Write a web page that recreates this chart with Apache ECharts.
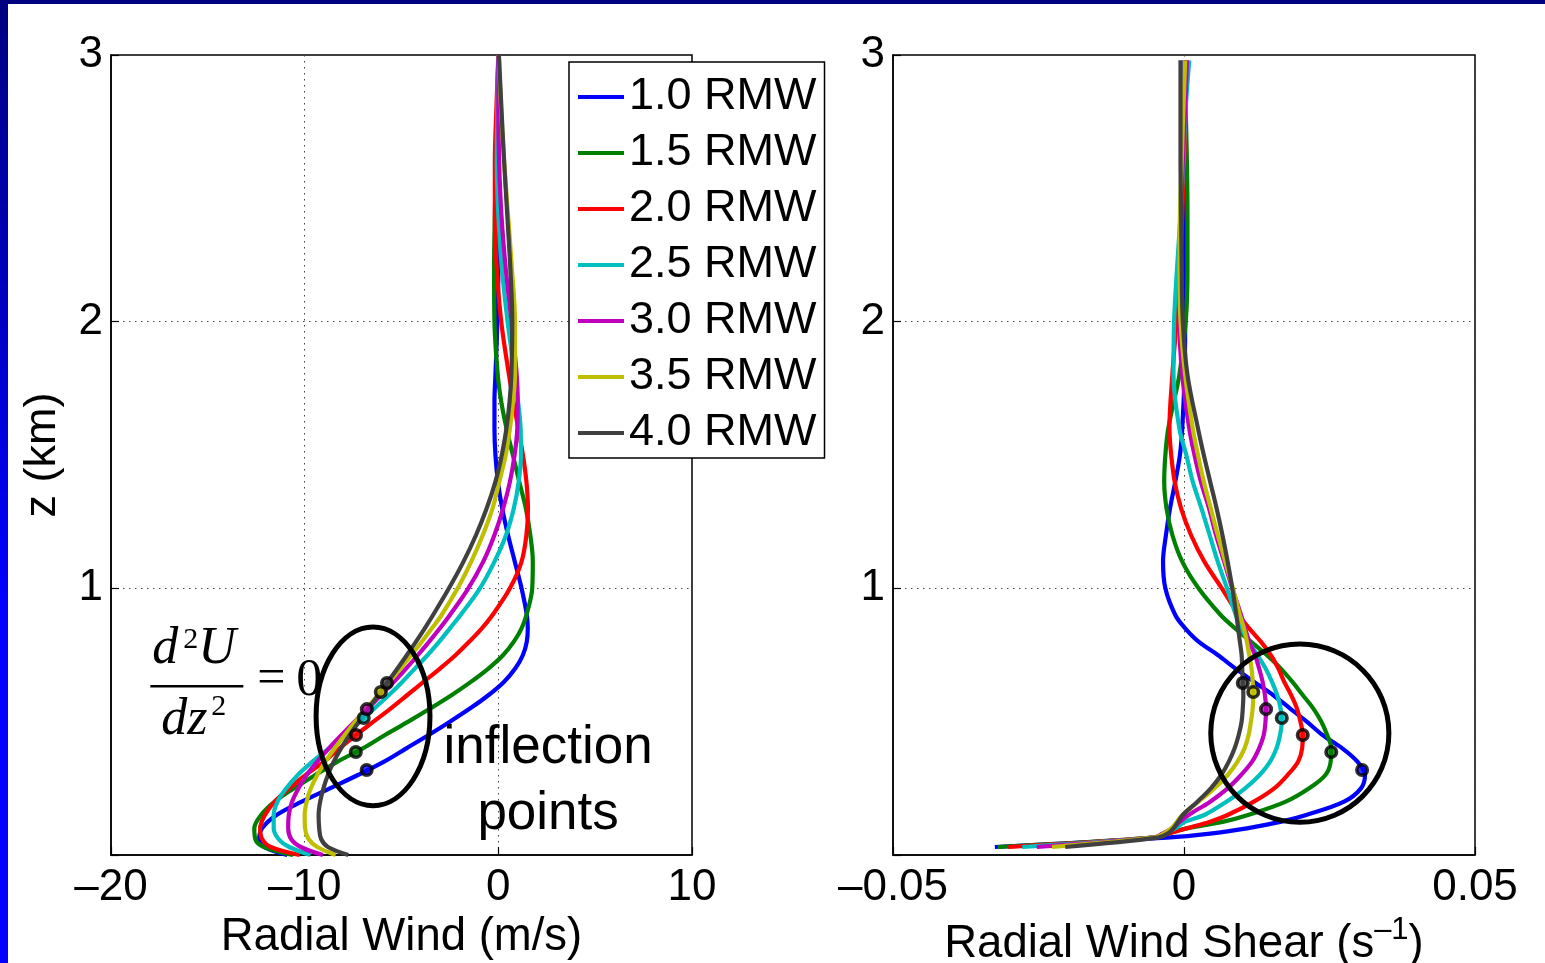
<!DOCTYPE html>
<html>
<head>
<meta charset="utf-8">
<script src="https://cdn.jsdelivr.net/npm/echarts@6/dist/echarts.min.js"></script>
<style>
  html, body { margin: 0; padding: 0; background: #fff; }
  #wrap { position: relative; width: 1545px; height: 963px; overflow: hidden; background: #fff; }
  #chart { position: absolute; left: 0; top: 0; width: 1545px; height: 963px; }
  #topbar { position: absolute; left: 0; top: 0; width: 1545px; height: 4px; background: #000080; z-index: 2; }
  #sidebar { position: absolute; left: 0; top: 0; width: 8px; height: 963px;
             background: linear-gradient(#000080, #0000ff 62%, #0000ff); z-index: 2; }
</style>
</head>
<body>
<div id="wrap">
  <div id="chart"></div>
  <div id="topbar"></div>
  <div id="sidebar"></div>
</div>
<script>
// Radial-wind profiles at several radii (multiples of the radius of maximum wind)
const seriesNames = ['1.0 RMW', '1.5 RMW', '2.0 RMW', '2.5 RMW', '3.0 RMW', '3.5 RMW', '4.0 RMW'];
const seriesColors = ['#0000ff', '#008000', '#ff0000', '#00bfbf', '#bf00bf', '#bfbf00', '#404040'];

// Height levels (km) of the radial wind profiles
const windZ = [0, 0.03, 0.06, 0.1, 0.15, 0.2, 0.25, 0.3, 0.35, 0.4, 0.45, 0.5, 0.55, 0.6, 0.65, 0.7,
  0.75, 0.8, 0.85, 0.9, 1.0, 1.1, 1.2, 1.3, 1.4, 1.5, 1.6, 1.7, 1.8, 2.0, 2.2, 2.4, 2.6, 2.8, 3.0];

// Radial wind U (m/s)
const windRmw10 = [-10.9, -12.1, -12.35, -12.2, -11.45, -10.15, -8.7, -7.25, -5.9, -4.75, -3.6, -2.5, -1.45,
  -0.5, 0.3, 0.88, 1.27, 1.47, 1.52, 1.47, 1.2, 0.85, 0.5, 0.2, -0.02, -0.15, -0.2, -0.2, -0.15, -0.05,
  0, 0, 0, 0, 0];
const windRmw15 = [-10.6, -12.1, -12.55, -12.6, -12.25, -11.55, -10.55, -9.45, -8.3, -7.0, -5.85, -4.65, -3.5,
  -2.4, -1.4, -0.5, 0.25, 0.8, 1.2, 1.45, 1.75, 1.78, 1.65, 1.42, 1.08, 0.75, 0.42, 0.15, -0.03, -0.2,
  -0.22, -0.18, -0.12, -0.06, 0];
const windRmw20 = [-10.25, -11.75, -12.2, -12.3, -12.05, -11.55, -10.8, -9.95, -9.0, -8.2, -7.35, -6.45, -5.55,
  -4.7, -3.85, -3.0, -2.2, -1.5, -0.85, -0.3, 0.6, 1.2, 1.45, 1.53, 1.45, 1.27, 1.03, 0.78, 0.55, 0.15,
  -0.08, -0.18, -0.18, -0.1, 0];
const windRmw25 = [-9.7, -10.8, -11.35, -11.6, -11.6, -11.4, -10.95, -10.35, -9.6, -8.75, -7.9, -7.15, -6.4,
  -5.65, -4.95, -4.3, -3.65, -3.05, -2.5, -1.95, -0.95, -0.2, 0.4, 0.8, 1.05, 1.17, 1.15, 1.02, 0.85,
  0.48, 0.18, 0.0, -0.08, -0.05, 0];
const windRmw30 = [-9.06, -10.2, -10.7, -10.85, -10.82, -10.65, -10.32, -9.9, -9.35, -8.75, -8.1, -7.42, -6.73,
  -6.05, -5.38, -4.75, -4.15, -3.57, -3.02, -2.5, -1.55, -0.78, -0.2, 0.25, 0.6, 0.84, 0.98, 1.0, 0.95,
  0.68, 0.38, 0.16, 0.04, 0.0, 0];
const windRmw35 = [-8.4, -9.35, -9.8, -9.98, -10.0, -9.9, -9.68, -9.35, -8.93, -8.45, -7.93, -7.38, -6.8,
  -6.2, -5.62, -5.05, -4.5, -3.95, -3.43, -2.93, -2.1, -1.4, -0.8, -0.3, 0.05, 0.38, 0.6, 0.76, 0.86,
  0.86, 0.7, 0.5, 0.3, 0.14, 0.02];
const windRmw40 = [-7.75, -8.8, -9.15, -9.25, -9.28, -9.2, -9.03, -8.8, -8.5, -8.12, -7.68, -7.2, -6.7,
  -6.2, -5.7, -5.2, -4.72, -4.25, -3.8, -3.37, -2.55, -1.8, -1.15, -0.6, -0.15, 0.18, 0.42, 0.58, 0.67,
  0.72, 0.62, 0.46, 0.3, 0.16, 0.03];

// Height levels (km) of the vertical shear profiles
const shearZ = [0.03, 0.065, 0.08, 0.1, 0.125, 0.15, 0.2, 0.25, 0.3, 0.35, 0.4, 0.45, 0.5, 0.55, 0.6, 0.65,
  0.7, 0.75, 0.8, 0.85, 0.9, 1.0, 1.1, 1.2, 1.3, 1.4, 1.5, 1.6, 1.8, 2.0, 2.2, 2.4, 2.6, 2.8, 2.98];

// Radial wind shear dU/dz (1/s)
const shearRmw10 = [-0.0325, -0.003, 0.0045, 0.0108, 0.0167, 0.021, 0.0275, 0.0304, 0.0311, 0.0298, 0.0272,
  0.0238, 0.0211, 0.0182, 0.0153, 0.012, 0.0088, 0.0058, 0.0025, 0.0002, -0.0015, -0.0032, -0.0036,
  -0.0031, -0.0024, -0.0015, -0.0007, -0.0003, 0.0001, 0.0002, 0.0002, 0.0002, 0.0001, 0.0001, 0.0001];
const shearRmw15 = [-0.032, -0.0053, -0.003, 0.0005, 0.0068, 0.011, 0.0175, 0.0215, 0.0243, 0.0252, 0.0253,
  0.0246, 0.0236, 0.0222, 0.0204, 0.0186, 0.0166, 0.0142, 0.0115, 0.0088, 0.0063, 0.0025, -0.0003,
  -0.002, -0.003, -0.0034, -0.0032, -0.0027, -0.0008, 0.0003, 0.0006, 0.0006, 0.0005, 0.0003, 0.0002];
const shearRmw20 = [-0.0302, -0.0053, -0.0028, 0.0005, 0.0045, 0.0075, 0.012, 0.0155, 0.0178, 0.0196, 0.0203,
  0.0204, 0.02, 0.0194, 0.0184, 0.0172, 0.0162, 0.0149, 0.0132, 0.0112, 0.0094, 0.0065, 0.0035, 0.0012,
  -0.0005, -0.0016, -0.0022, -0.0025, -0.002, -0.0013, -0.0007, -0.0003, 0, 0.0003, 0.0003];
const shearRmw25 = [-0.0278, -0.0053, -0.0035, -0.0015, 0.0002, 0.0035, 0.0073, 0.0105, 0.013, 0.0148, 0.0159,
  0.0165, 0.0168, 0.0166, 0.016, 0.0151, 0.014, 0.0126, 0.0111, 0.0099, 0.0089, 0.0074, 0.0058, 0.0044,
  0.003, 0.0015, 0.0004, -0.0008, -0.0018, -0.0017, -0.0012, -0.0006, -0.0001, 0.0003, 0.0009];
const shearRmw30 = [-0.0253, -0.0053, -0.0037, -0.002, -0.0007, 0.0008, 0.0045, 0.0075, 0.0098, 0.0117, 0.0129,
  0.0137, 0.014, 0.0141, 0.0139, 0.0135, 0.0129, 0.0122, 0.0112, 0.0105, 0.0098, 0.0083, 0.0069, 0.0055,
  0.0043, 0.0029, 0.0018, 0.0009, -0.0003, -0.0008, -0.0008, -0.0005, -0.0002, 0.0002, 0.0005];
const shearRmw35 = [-0.0227, -0.0053, -0.0035, -0.0022, -0.0012, -0.0003, 0.0025, 0.0052, 0.0075, 0.0092, 0.0104,
  0.0111, 0.0115, 0.0118, 0.0119, 0.0118, 0.0116, 0.0112, 0.0108, 0.0103, 0.0096, 0.0084, 0.0071, 0.0058,
  0.0046, 0.0034, 0.0024, 0.0015, 0.0002, -0.0006, -0.0008, -0.0007, -0.0004, -0.0001, 0.0002];
const shearRmw40 = [-0.0204, -0.0045, -0.0028, -0.0018, -0.001, -0.0002, 0.0023, 0.0046, 0.0064, 0.0077, 0.0087,
  0.0094, 0.0099, 0.0101, 0.0102, 0.0101, 0.01, 0.0099, 0.0096, 0.0093, 0.009, 0.0083, 0.0075, 0.0066,
  0.0056, 0.0045, 0.0034, 0.0024, 0.0006, -0.0002, -0.0004, -0.0005, -0.0006, -0.0006, -0.0006];

// Inflection points (d2U/dz2 = 0) for each radius
const inflectZ = [0.319, 0.386, 0.45, 0.514, 0.547, 0.611, 0.645];
const inflectWind = [-6.8, -7.36, -7.35, -6.95, -6.79, -6.07, -5.75];
const inflectShear = [0.0306, 0.0253, 0.0204, 0.0168, 0.0141, 0.0119, 0.0101];

// Axis ticks
const windTicks = { min: -20, max: 10, step: 10 };
const shearTicks = { min: -0.05, max: 0.05, step: 0.05 };
const zTicks = { min: 0, max: 3, step: 1 };

const windProfiles = [windRmw10, windRmw15, windRmw20, windRmw25, windRmw30, windRmw35, windRmw40];
const shearProfiles = [shearRmw10, shearRmw15, shearRmw20, shearRmw25, shearRmw30, shearRmw35, shearRmw40];

const SANS = '"Liberation Sans", Arial, Helvetica, sans-serif';
const SERIF = '"Liberation Serif", "Times New Roman", serif';
const EN_DASH = '\u2013';

function tickFormatter(decimals) {
  return function (v) {
    if (Math.abs(v) < 1e-12) return '0';
    return (v < 0 ? EN_DASH : '') + Math.abs(v).toFixed(decimals);
  };
}

const axisLineStyle = { show: true, onZero: false, lineStyle: { color: '#000', width: 1.5 } };
const axisTickStyle = { show: true, inside: true, length: 8, lineStyle: { color: '#000', width: 1.2 } };
const gridLineStyle = { show: true, lineStyle: { color: '#444', width: 1, type: [1.5, 4.5] } };
const tickLabelStyle = { color: '#000', fontSize: 44, fontFamily: SANS };

function xAxis(gridIndex, ticks, decimals, name, nameStyle, nameGap) {
  return {
    type: 'value', gridIndex, min: ticks.min, max: ticks.max, interval: ticks.step, position: 'bottom',
    axisLine: axisLineStyle, axisTick: axisTickStyle, splitLine: gridLineStyle,
    axisLabel: Object.assign({ margin: 11, formatter: tickFormatter(decimals) }, tickLabelStyle),
    name, nameLocation: 'middle', nameGap, nameTextStyle: nameStyle
  };
}

function yAxis(gridIndex, name) {
  return {
    type: 'value', gridIndex, min: zTicks.min, max: zTicks.max, interval: zTicks.step, position: 'left',
    axisLine: axisLineStyle, axisTick: axisTickStyle, splitLine: gridLineStyle,
    axisLabel: Object.assign({ margin: 8, formatter: v => (v === 0 ? '' : String(v)) }, tickLabelStyle),
    name, nameLocation: 'middle', nameGap: 46,
    nameTextStyle: { color: '#000', fontSize: 45, fontFamily: SANS }
  };
}

const LINE_W = 4.2;
const series = [];
seriesNames.forEach((name, k) => {
  series.push({
    name, type: 'line', xAxisIndex: 0, yAxisIndex: 0, smooth: 0.35, symbol: 'none',
    lineStyle: { color: seriesColors[k], width: LINE_W }, itemStyle: { color: seriesColors[k] },
    data: windZ.map((z, i) => [windProfiles[k][i], z]), z: 3
  });
});
seriesNames.forEach((name, k) => {
  series.push({
    name, type: 'line', xAxisIndex: 1, yAxisIndex: 1, smooth: 0.35, symbol: 'none',
    lineStyle: { color: seriesColors[k], width: LINE_W }, itemStyle: { color: seriesColors[k] },
    data: shearZ.map((z, i) => [shearProfiles[k][i], z]), z: 3
  });
});
const dotStyle = { borderColor: '#000', borderWidth: 3.6 };
series.push({
  name: 'inflection-wind', type: 'scatter', xAxisIndex: 0, yAxisIndex: 0, symbolSize: 10.5, z: 5,
  data: inflectZ.map((z, i) => ({ value: [inflectWind[i], z], itemStyle: Object.assign({ color: seriesColors[i] }, dotStyle) }))
});
series.push({
  name: 'inflection-shear', type: 'scatter', xAxisIndex: 1, yAxisIndex: 1, symbolSize: 10.5, z: 5,
  data: inflectZ.map((z, i) => ({ value: [inflectShear[i], z], itemStyle: Object.assign({ color: seriesColors[i] }, dotStyle) }))
});

const gridBase = { top: 55, height: 800, show: true, borderColor: '#000', borderWidth: 1.5,
                   containLabel: false, outerBoundsMode: 'none' };

const option = {
  animation: false,
  backgroundColor: '#fff',
  grid: [
    Object.assign({ left: 111, width: 581 }, gridBase),
    Object.assign({ left: 893, width: 582 }, gridBase)
  ],
  xAxis: [
    xAxis(0, windTicks, 0, 'Radial Wind (m/s)', { color: '#000', fontSize: 45.5, fontFamily: SANS }, 49),
    xAxis(1, shearTicks, 2, 'Radial Wind Shear (s{sup|' + EN_DASH + '1})',
      { color: '#000', fontSize: 45.5, fontFamily: SANS, lineHeight: 60,
        rich: { sup: { fontSize: 31, fontFamily: SANS, color: '#000', verticalAlign: 'top', lineHeight: 30 } } }, 50)
  ],
  yAxis: [yAxis(0, 'z (km)'), yAxis(1, '')],
  legend: {
    data: seriesNames, orient: 'vertical', left: 569, top: 62, selectedMode: false,
    backgroundColor: '#fff', borderColor: '#000', borderWidth: 1.5, borderRadius: 0,
    padding: [12, 8, 2, 9], itemGap: 10, itemWidth: 46, itemHeight: 4, icon: 'rect',
    textStyle: { color: '#000', fontSize: 45, fontFamily: SANS, lineHeight: 46 }
  },
  series
};

const chart = echarts.init(document.getElementById('chart'), null, { renderer: 'canvas' });
chart.setOption(option);

// Annotations placed in data units of each panel
const ringLeft = { center: [-6.47, 0.52], radius: [2.94, 0.335] };
const ringRight = { center: [0.0199, 0.457], radius: [0.0153, 0.334] };
const formulaAnchor = [-15.8, 0.633];
const inflectLabel = { x: 2.57, lines: [['inflection', 0.401], ['points', 0.152]] };

function ellipseFor(gridIndex, ring) {
  const c = chart.convertToPixel({ gridIndex }, ring.center);
  const e = chart.convertToPixel({ gridIndex }, [ring.center[0] + ring.radius[0], ring.center[1] + ring.radius[1]]);
  return {
    type: 'ellipse', z: 100,
    shape: { cx: c[0], cy: c[1], rx: Math.abs(e[0] - c[0]), ry: Math.abs(e[1] - c[1]) },
    style: { fill: 'none', stroke: '#000', lineWidth: 5 }
  };
}

function glyph(x, y, text, size, italic) {
  return {
    type: 'text', z: 100, x, y,
    style: { text, fontSize: size, fontFamily: SERIF, fontStyle: italic ? 'italic' : 'normal',
             fill: '#000', align: 'left', verticalAlign: 'middle' }
  };
}

const fa = chart.convertToPixel({ gridIndex: 0 }, formulaAnchor);
const graphics = [
  ellipseFor(0, ringLeft),
  ellipseFor(1, ringRight),
  glyph(fa[0] - 40, fa[1] - 37, 'd', 52, true),
  glyph(fa[0] - 9, fa[1] - 46, '2', 30, false),
  glyph(fa[0] + 6, fa[1] - 37, 'U', 52, true),
  { type: 'line', z: 100, shape: { x1: fa[0] - 42, y1: fa[1], x2: fa[0] + 51, y2: fa[1] },
    style: { stroke: '#000', lineWidth: 2.5 } },
  glyph(fa[0] - 31, fa[1] + 34, 'd', 52, true),
  glyph(fa[0] - 5, fa[1] + 34, 'z', 52, true),
  glyph(fa[0] + 19, fa[1] + 21, '2', 30, false),
  glyph(fa[0] + 65, fa[1] - 6, '=', 50, false),
  glyph(fa[0] + 104, fa[1] - 5, '0', 52, false)
];
inflectLabel.lines.forEach(([text, z]) => {
  const p = chart.convertToPixel({ gridIndex: 0 }, [inflectLabel.x, z]);
  graphics.push({
    type: 'text', z: 100, x: p[0], y: p[1],
    style: { text, fontSize: 53, fontFamily: SANS, fill: '#000', align: 'center', verticalAlign: 'middle' }
  });
});
chart.setOption({ graphic: graphics });
</script>
</body>
</html>
